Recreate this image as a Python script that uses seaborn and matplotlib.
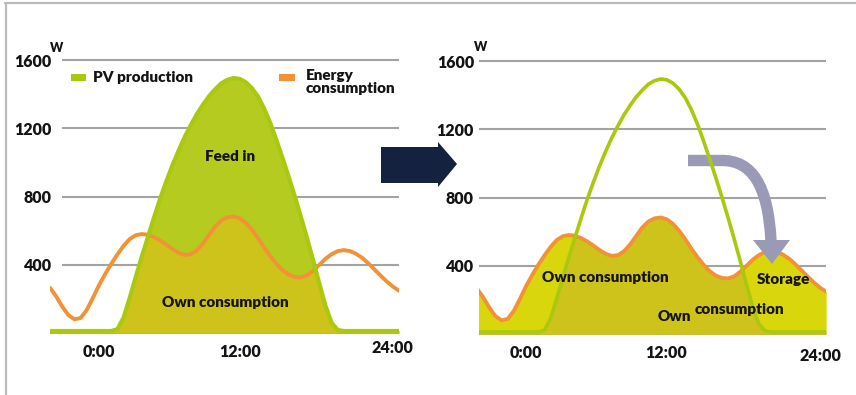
import numpy as np
import pandas as pd
import matplotlib
matplotlib.use("Agg")
import matplotlib.pyplot as plt
import matplotlib.transforms as mtransforms
from matplotlib.patches import Polygon, Rectangle, PathPatch
from matplotlib.path import Path
from matplotlib.lines import Line2D
import seaborn as sns

# ---- data -------------------------------------------------------------
hours = np.arange(-4.0, 24.51, 0.5)

pv_production = [
    12, 12, 12, 12, 12, 12, 12, 12, 12, 12, 12,          # -4.0 .. 1.0
    22, 90, 205, 330, 450, 565, 680, 790, 890, 985,       # 1.5 .. 6.0
    1070, 1150, 1220, 1285, 1340, 1390, 1430, 1465,       # 6.5 .. 10.0
    1485, 1495, 1490, 1470, 1435, 1385, 1315, 1230,       # 10.5 .. 14.0
    1130, 1025, 915, 800, 680, 555, 425, 290, 160, 60, 18,  # 14.5 .. 19.5
    12, 12, 12, 12, 12, 12, 12, 12, 12, 12,               # 20.0 .. 24.5
]

energy_consumption = [
    265, 215, 155, 105, 80, 88, 135, 205,                 # -4.0 .. -0.5
    280, 345, 405, 460, 510, 550, 573, 580,               # 0.0 .. 3.5
    576, 562, 542, 518, 492, 470, 458, 462,               # 4.0 .. 7.5
    485, 525, 575, 625, 660, 678, 683, 672,               # 8.0 .. 11.5
    645, 605, 555, 500, 450, 405, 368, 342,               # 12.0 .. 15.5
    328, 326, 338, 365, 400, 435, 462, 480,               # 16.0 .. 19.5
    486, 480, 464, 440, 408, 372, 336, 302,               # 20.0 .. 23.5
    272, 248,                                             # 24.0 .. 24.5
]

y_ticks = [400, 800, 1200, 1600]
y_tick_labels = ["400", "800", "1200", "1600"]
x_ticks = [0, 12, 24]
x_tick_labels = ["0:00", "12:00", "24:00"]

df = pd.DataFrame({"hour": hours, "pv": pv_production, "load": energy_consumption})
own_use = np.minimum(df["pv"].values, df["load"].values)

# ---- style ------------------------------------------------------------
GREEN_LINE = "#a9c80e"
GREEN_FILL = "#b5cb1f"
OLIVE = "#cdc31b"
YELLOW = "#d9d60b"
ORANGE = "#f29236"
GRID = "#a3a3a3"
NAVY = "#15223f"
SLATE = "#9a9ab6"
INK = "#141414"
WEIGHT = "heavy"

sns.set_theme(style="white")
plt.rcParams["font.family"] = ["Lato", "DejaVu Sans"]

W_PX, H_PX = 856, 395
fig = plt.figure(figsize=(W_PX / 100, H_PX / 100), dpi=100)
fig.patch.set_facecolor("white")
px = fig.dpi_scale_trans  # inches; pixel coords -> (x/100, (H-y)/100)


def P(x, y):
    return (x / 100.0, (H_PX - y) / 100.0)


ax1 = fig.add_axes([50 / W_PX, (H_PX - 338.1) / H_PX, 349 / W_PX, 298.5 / H_PX])
ax2 = fig.add_axes([479 / W_PX, (H_PX - 339.1) / H_PX, 347 / W_PX, 298.5 / H_PX])
ax1.set_xlim(-4.0, 24.5)
ax2.set_xlim(-3.84, 24.49)
for ax in (ax1, ax2):
    ax.set_ylim(-30, 1720)
    ax.set_facecolor("none")
    sns.despine(ax=ax, left=True, bottom=True)

# gridlines
ax1.hlines(y_ticks, -3.0, 24.5, color=GRID, lw=1.5, zorder=0.5)
ax1.hlines([0], -4.0, 24.5, color=GRID, lw=1.5, zorder=0.5)
ax2.hlines(y_ticks + [0], -3.84, 24.49, color=GRID, lw=1.5, zorder=0.5)

# ---- left panel: production vs consumption ------------------------------
ax1.fill_between(df["hour"], 0, df["pv"], color=GREEN_FILL, lw=0, zorder=1)
ax1.fill_between(df["hour"], 0, own_use, color=OLIVE, lw=0, zorder=1.5)
sns.lineplot(data=df, x="hour", y="load", ax=ax1, color=ORANGE, lw=2.8, zorder=3)
sns.lineplot(data=df, x="hour", y="pv", ax=ax1, color=GREEN_LINE, lw=2.9, zorder=4)

ax1.text(10.7, 1037, "Feed in", ha="center", va="center", fontsize=11,
         fontweight=WEIGHT, color=INK, zorder=6)
ax1.text(10.3, 176, "Own consumption", ha="center", va="center", fontsize=11,
         fontweight=WEIGHT, color=INK, zorder=6)

# legend
ax1.add_patch(Rectangle((-2.29, 1477), 1.23, 41, color=GREEN_LINE, lw=0, zorder=6))
ax1.text(-0.49, 1500, "PV production", ha="left", va="center", fontsize=11,
         fontweight=WEIGHT, color=INK, zorder=6)
ax1.add_patch(Rectangle((14.69, 1477), 1.31, 41, color=ORANGE, lw=0, zorder=6))
ax1.text(16.9, 1545, "Energy\nconsumption", ha="left", va="top", fontsize=11,
         fontweight=WEIGHT, color=INK, linespacing=0.95, zorder=6)

# ---- right panel: with storage ------------------------------------------
ax2.fill_between(df["hour"], 0, df["load"], color=YELLOW, lw=0, zorder=1)
ax2.fill_between(df["hour"], 0, own_use, color=OLIVE, lw=0, zorder=1.5)
sns.lineplot(data=df, x="hour", y="load", ax=ax2, color=ORANGE, lw=2.8, zorder=3)
sns.lineplot(data=df, x="hour", y="pv", ax=ax2, color=GREEN_LINE, lw=2.6, zorder=5)

ax2.text(6.5, 334, "Own consumption", ha="center", va="center", fontsize=11,
         fontweight=WEIGHT, color=INK, zorder=6)
ax2.text(21.0, 322, "Storage", ha="center", va="center", fontsize=11,
         fontweight=WEIGHT, color=INK, zorder=6)
ax2.text(12.1, 105, "Own", ha="center", va="center", fontsize=11,
         fontweight=WEIGHT, color=INK, zorder=6)
ax2.text(17.4, 141, "consumption", ha="center", va="center", fontsize=11,
         fontweight=WEIGHT, color=INK, zorder=6)

# curved storage arrow (behind the PV line, over the consumption line)
band = Path([P(688, 160.5), P(722, 160.5), P(752, 160.5), P(768, 185), P(771, 241)],
            [Path.MOVETO, Path.LINETO, Path.CURVE4, Path.CURVE4, Path.CURVE4])
ax2.add_patch(PathPatch(band, transform=px, fill=False, edgecolor=SLATE, lw=8.2,
                        capstyle="butt", clip_on=False, zorder=4))
ax2.add_patch(Polygon([P(753, 240), P(790, 240), P(772, 264)], closed=True,
                      transform=px, color=SLATE, lw=0, clip_on=False, zorder=4))

# ---- axes text --------------------------------------------------------
for ax, pad in ((ax1, -1.4), (ax2, 3.6)):
    ax.set_xlabel("")
    ax.set_ylabel("")
    ax.set_yticks(y_ticks)
    ax.set_yticklabels(y_tick_labels, fontsize=11.5, fontweight=WEIGHT, color=INK)
    ax.set_xticks(x_ticks)
    ax.set_xticklabels(x_tick_labels, fontsize=11.5, fontweight=WEIGHT, color=INK)
    ax.tick_params(axis="y", length=0, pad=pad)
    ax.tick_params(axis="x", length=0, pad=4.0)
    ax.grid(False)


def shift(label, dx, dy):
    label.set_transform(label.get_transform()
                        + mtransforms.ScaledTranslation(dx / 100, -dy / 100, fig.dpi_scale_trans))


shift(ax1.get_xticklabels()[1], -6, 0)
shift(ax2.get_xticklabels()[1], -7, 0)
shift(ax1.get_xticklabels()[2], 0, -4)
shift(ax2.get_xticklabels()[2], 0, 3)

ax1.text(-3.45, 1672, "W", ha="center", va="center", fontsize=9, fontweight=WEIGHT, color=INK)
ax2.text(-3.7, 1682, "W", ha="center", va="center", fontsize=9, fontweight=WEIGHT,
         color=INK, clip_on=False)

# ---- figure decorations -------------------------------------------------
fig.add_artist(Polygon([P(381, 147), P(438, 147), P(438, 142), P(457, 164),
                        P(438, 187), P(438, 183), P(381, 183)], closed=True,
                       transform=px, color=NAVY, lw=0))
fig.add_artist(Line2D([5 / 100, 856 / 100], [(H_PX - 3) / 100] * 2, transform=px,
                      color="#bcbcbc", lw=1.6))
fig.add_artist(Line2D([6 / 100] * 2, [(H_PX - 3) / 100, 0], transform=px,
                      color="#bcbcbc", lw=1.6))

fig.savefig("out.png", dpi=100, facecolor="white")
